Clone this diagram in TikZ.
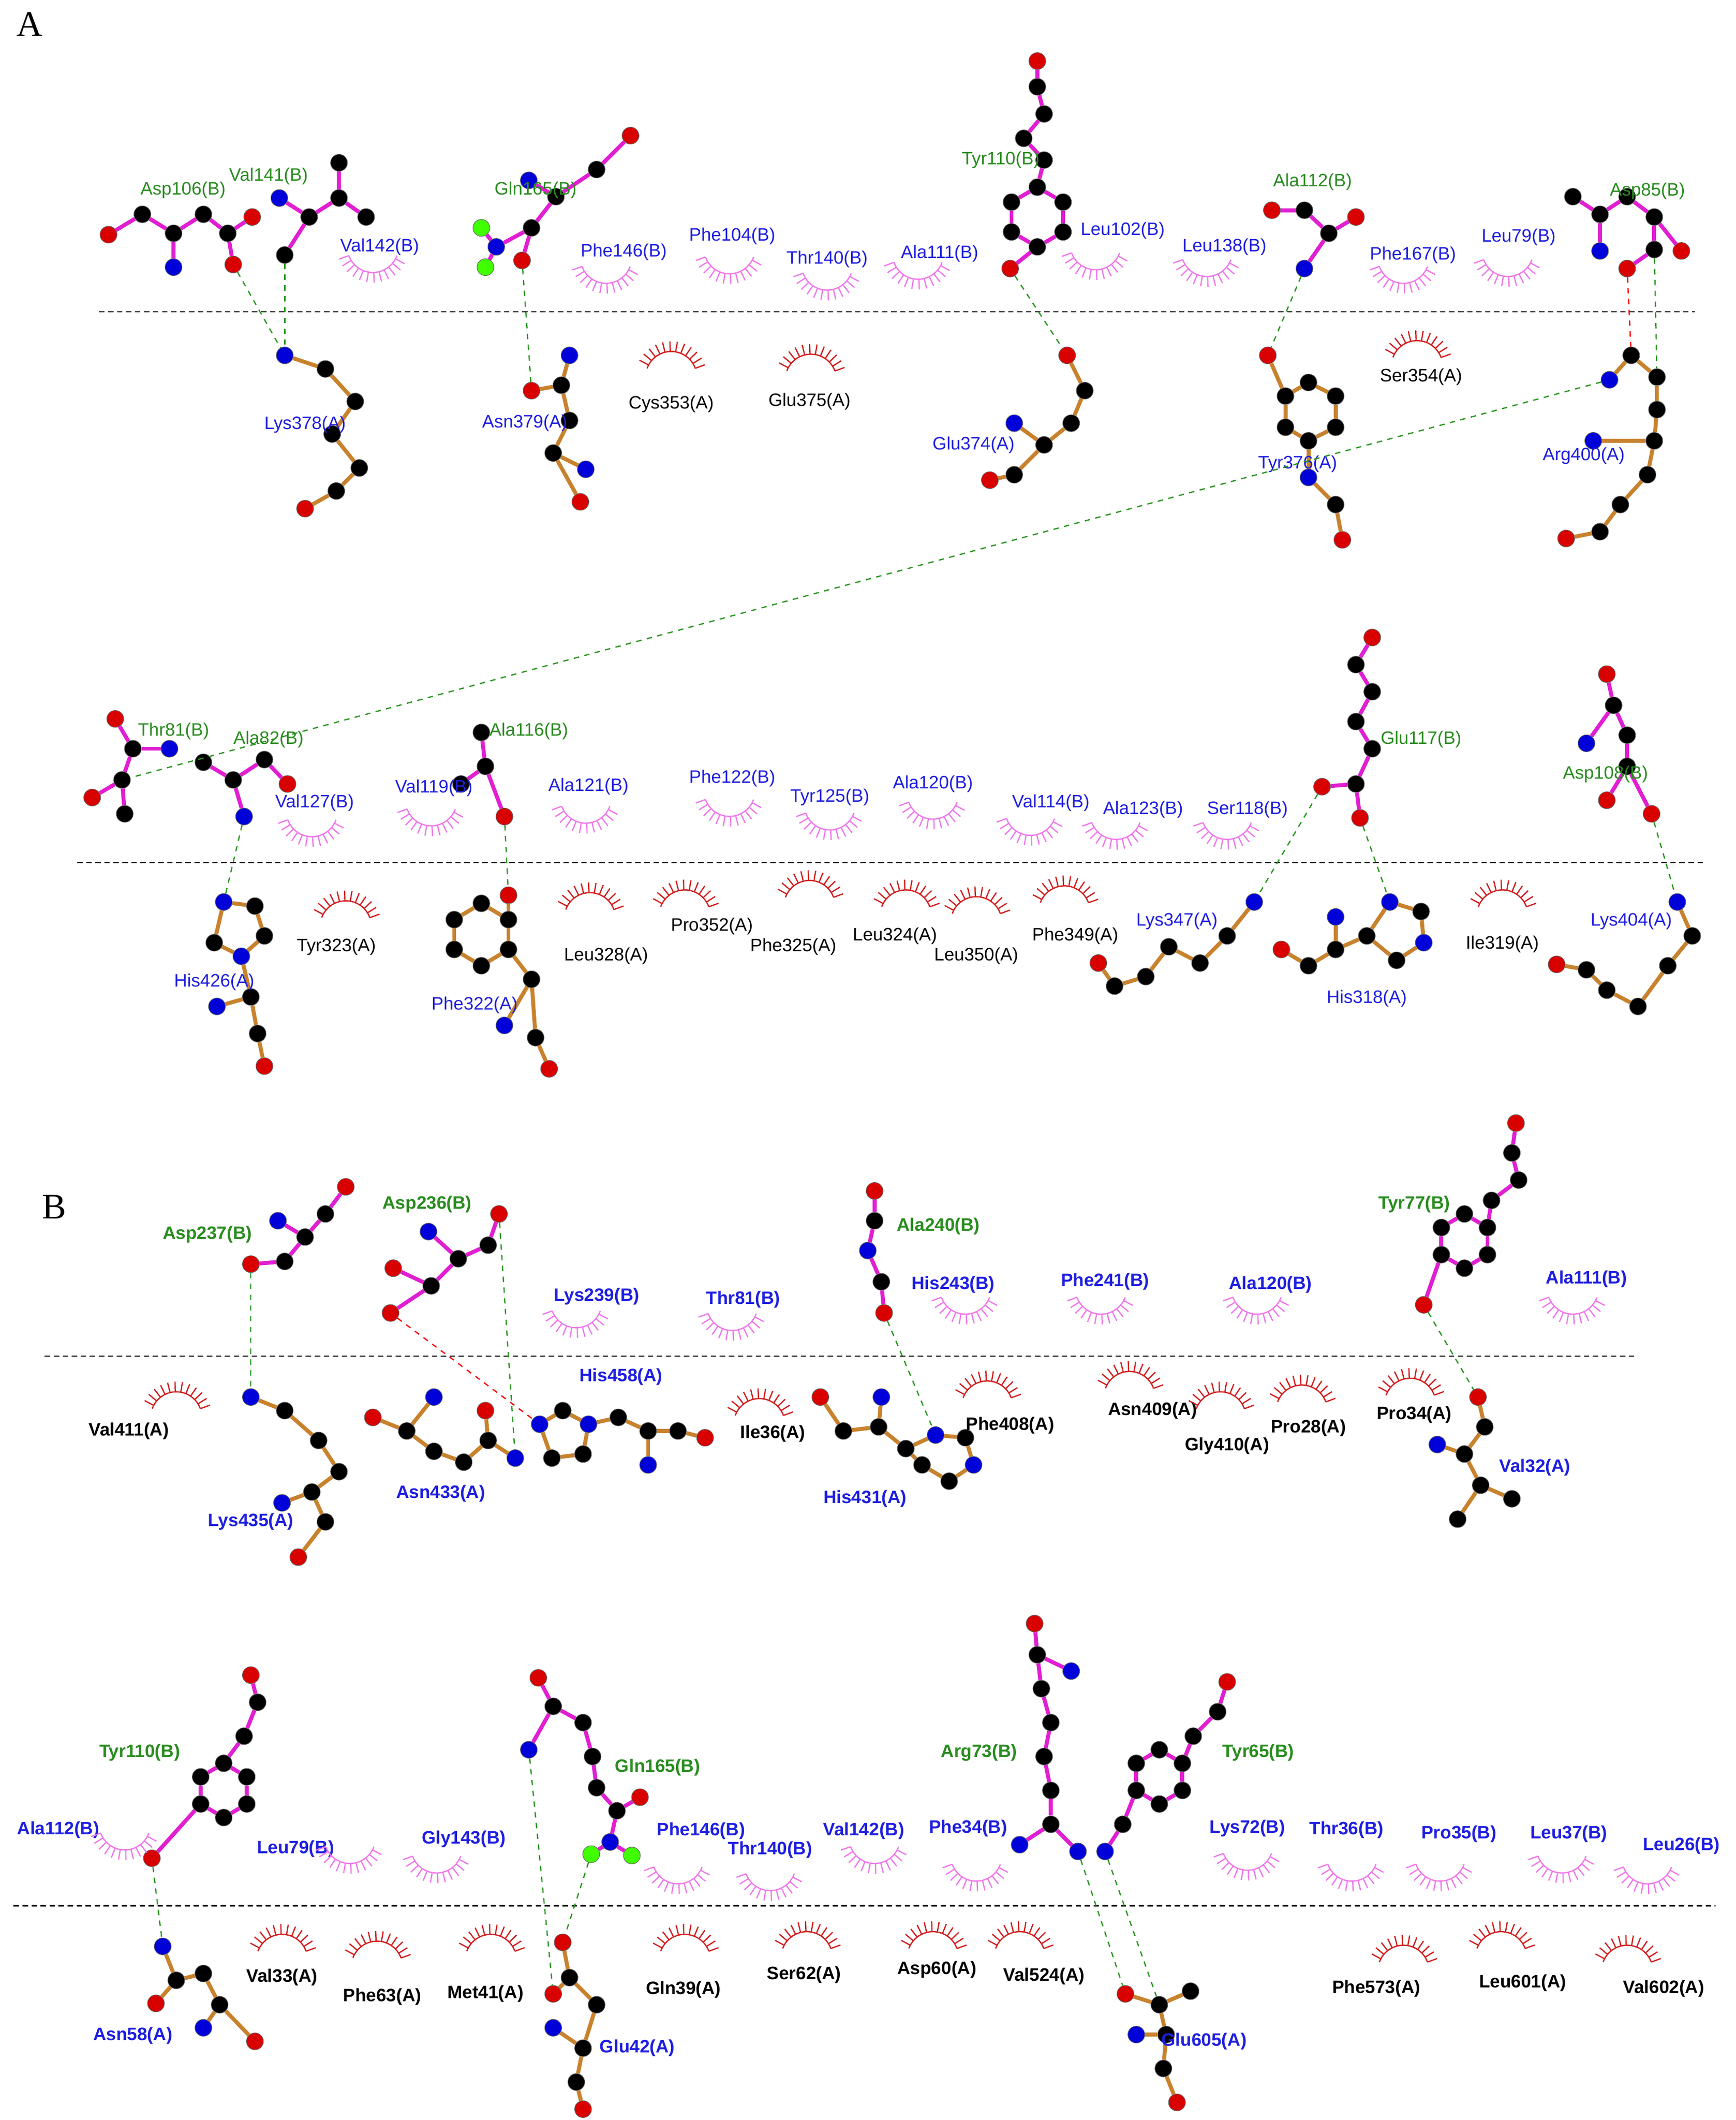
\documentclass[tikz,border=0pt]{standalone}
\usepackage{fontspec}
\setmainfont{Liberation Sans}
\newfontfamily\serifpanel{Liberation Serif}
\definecolor{lgreen}{RGB}{40,140,30}
\definecolor{lblue}{RGB}{30,30,225}
\definecolor{pinkarc}{RGB}{240,120,235}
\definecolor{redarc}{RGB}{210,30,30}
\definecolor{magb}{RGB}{225,30,210}
\definecolor{orb}{RGB}{200,130,45}
\definecolor{hbg}{RGB}{40,150,30}
\newcounter{lbc}
\newcounter{arc}
\tikzset{
 atom/.style={circle,inner sep=0pt,minimum size=0.33cm,draw=black!60,line width=0.3pt},
 ac/.style={atom,fill=black},
 an/.style={atom,fill=blue!85!black},
 ao/.style={atom,fill=red!85!black},
 ag/.style={atom,fill=green!75!yellow},
 bb/.style={draw=magb,line width=2.2pt},
 ab/.style={draw=orb,line width=2.2pt},
 hb/.style={draw=hbg,dashed,line width=0.7pt},
 hbr/.style={draw=red,dashed,line width=0.7pt},
 lg/.style={text=lgreen,font=\fontsize{10}{12}\selectfont},
 lb/.style={text=lblue,font=\fontsize{10}{12}\selectfont},
 lk/.style={text=black,font=\fontsize{10}{12}\selectfont},
 lgB/.style={lg,font=\fontsize{10}{12}\selectfont\bfseries},
 lbB/.style={lb,font=\fontsize{10}{12}\selectfont\bfseries},
 lkB/.style={lk,font=\fontsize{10}{12}\selectfont\bfseries},
 lash/.pic={\draw[pic actions] (200:0.5cm) arc (200:340:0.5cm);
   \foreach \a in {200,212,...,340} \draw[pic actions] (\a:0.5cm) -- (\a:0.7cm);},
 pk/.style={draw=pinkarc,line width=0.7pt},
 rd/.style={draw=redarc,line width=0.7pt,rotate=180},
}
% chain: name, bond style, list x/y/type
\newcommand\chain[3]{%
 \foreach \xx/\yy/\tt [count=\i] in {#3}{\node[\tt] (#1-\i) at (\xx,\yy) {};}%
 \foreach \xx/\yy/\tt [count=\i] in {#3}{\ifnum\i>1 \pgfmathtruncatemacro\j{\i-1}\draw[#2] (#1-\j) -- (#1-\i);\fi}}
\newcommand\atm[4]{\node[#4] (#1) at (#2,#3) {};}
\newcommand\lbl[4]{\stepcounter{lbc}\node[#1] (lab\arabic{lbc}) at (#2,#3) {#4};}
\newcommand\hyd[3]{\stepcounter{arc}\pic[#1] (arc\arabic{arc}) at (#2,#3) {lash};}
\begin{document}
\begin{tikzpicture}[x=0.02648cm,y=-0.02648cm]
\useasboundingbox[fill=white] (0,0) rectangle (1280,1563);
\node[font=\serifpanel\fontsize{20}{22}\selectfont] (pA) at (22,18) {A};
\node[font=\serifpanel\fontsize{20}{22}\selectfont] (pB) at (40,890) {B};
\coordinate (d1a) at (73,230); \coordinate (d1b) at (1250,230);
\coordinate (d2a) at (57,636); \coordinate (d2b) at (1258,636);
\coordinate (d3a) at (33,1000); \coordinate (d3b) at (1207,1000);
\coordinate (d4a) at (10,1405); \coordinate (d4b) at (1265,1405);
\foreach \a/\b in {d1a/d1b,d2a/d2b,d3a/d3b,d4a/d4b} \draw[densely dashed,line width=0.6pt] (\a) -- (\b);

%%%%% A top
\chain{m1}{bb}{80/173/ao,105/158/ac,128/172/ac,150/158/ac,168/172/ac,186/160/ao}
\atm{m1a}{128}{197}{an}\atm{m1b}{172}{195}{ao}
\draw[bb] (m1-3)--(m1a); \draw[bb] (m1-5)--(m1b);
\chain{m2}{bb}{206/146/an,228/160/ac,250/146/ac,250/120/ac}
\atm{m2a}{270}{160}{ac}\atm{m2b}{210}{188}{ac}
\draw[bb] (m2-3)--(m2a); \draw[bb] (m2-2)--(m2b);
\chain{m3}{ab}{210/262/an,240/272/ac,262/296/ac,245/320/ac,265/345/ac,248/362/ac,225/375/ao}
\draw[hb] (m1b)--(m3-1); \draw[hb] (m2b)--(m3-1);
\chain{m4}{bb}{366/182/an,392/168/ac,410/145/ac,440/125/ac,465/100/ao}
\atm{m4a}{390}{133}{an}\atm{m4b}{355}{168}{ag}\atm{m4c}{358}{197}{ag}\atm{m4d}{385}{192}{ao}
\draw[bb] (m4-3)--(m4a); \draw[bb] (m4-1)--(m4b); \draw[bb] (m4-1)--(m4c); \draw[bb] (m4-2)--(m4d);
\chain{m5}{ab}{420/262/an,414/284/ac,420/310/ac,408/334/ac,432/346/an}
\atm{m5a}{392}{288}{ao}\atm{m5b}{428}{370}{ao}
\draw[ab] (m5-2)--(m5a); \draw[ab] (m5-4)--(m5b);
\draw[hb] (m4d)--(m5a);
\chain{m6}{bb}{765/45/ao,765/64/ac,770/84/ac,755/102/ac,770/118/ac,765/138/ac,784/149/ac,784/171/ac,765/182/ac,746/171/ac,746/149/ac}
\draw[bb] (m6-11)--(m6-6);
\atm{m6a}{745}{198}{ao}\draw[bb] (m6-9)--(m6a);
\chain{m7}{ab}{787/262/ao,800/288/ac,790/312/ac,770/328/ac,748/312/an}
\atm{m7a}{748}{350}{ac}\atm{m7b}{730}{354}{ao}
\draw[ab] (m7-4)--(m7a); \draw[ab] (m7a)--(m7b);
\draw[hb] (m6a)--(m7-1);
\chain{m8}{bb}{938/155/ao,962/155/ac,980/172/ac,1000/160/ao}
\atm{m8a}{962}{198}{an}\draw[bb] (m8-3)--(m8a);
\chain{m9}{ab}{935/262/ao,948/292/ac,965/282/ac,985/292/ac,985/315/ac,965/325/ac,948/315/ac}
\draw[ab] (m9-7)--(m9-2);
\chain{m9b}{ab}{965/352/an,985/372/ac,990/398/ao}
\draw[ab] (m9-6)--(m9b-1);
\draw[hb] (m8a)--(m9-1);
\chain{m10}{bb}{1160/145/ac,1180/158/ac,1200/145/ac,1220/160/ac,1240/185/ao}
\atm{m10a}{1180}{185}{an}\atm{m10b}{1220}{184}{ac}\atm{m10c}{1200}{198}{ao}
\draw[bb] (m10-2)--(m10a); \draw[bb] (m10-4)--(m10b); \draw[bb] (m10b)--(m10c);
\chain{m11}{ab}{1187/280/an,1203/262/ac,1222/278/ac,1222/302/ac,1220/325/ac,1215/350/ac,1195/372/ac,1180/392/ac,1155/397/ao}
\atm{m11a}{1175}{325}{an}\draw[ab] (m11-5)--(m11a);
\draw[hbr] (m10c)--(m11-2); \draw[hb] (m10b)--(m11-3);

\lbl{lg}{135}{140}{Asp106(B)} \lbl{lg}{198}{130}{Val141(B)}
\lbl{lb}{280}{182}{Val142(B)} \hyd{pk}{275}{182}
\lbl{lg}{395}{140}{Gln165(B)}
\lbl{lb}{460}{186}{Phe146(B)} \hyd{pk}{447}{190}
\lbl{lb}{540}{174}{Phe104(B)} \hyd{pk}{538}{183}
\lbl{lb}{610}{191}{Thr140(B)} \hyd{pk}{610}{195}
\lbl{lb}{693}{187}{Ala111(B)} \hyd{pk}{677}{187}
\lbl{lg}{738}{118}{Tyr110(B)}
\lbl{lb}{828}{170}{Leu102(B)} \hyd{pk}{808}{180}
\lbl{lb}{903}{182}{Leu138(B)} \hyd{pk}{890}{185}
\lbl{lg}{968}{134}{Ala112(B)}
\lbl{lb}{1042}{188}{Phe167(B)} \hyd{pk}{1035}{190}
\lbl{lb}{1120}{175}{Leu79(B)} \hyd{pk}{1112}{185}
\lbl{lg}{1215}{141}{Asp85(B)}
\lbl{lb}{225}{313}{Lys378(A)} \lbl{lb}{387}{312}{Asn379(A)}
\hyd{rd}{495}{278} \lbl{lk}{495}{298}{Cys353(A)}
\hyd{rd}{598}{280} \lbl{lk}{597}{296}{Glu375(A)}
\lbl{lb}{718}{328}{Glu374(A)} \lbl{lb}{957}{342}{Tyr376(A)}
\hyd{rd}{1045}{270} \lbl{lk}{1048}{278}{Ser354(A)}
\lbl{lb}{1168}{336}{Arg400(A)}

%%%%% A bottom
\chain{m12}{bb}{68/588/ao,90/575/ac,98/552/ac,85/530/ao}
\atm{m12a}{125}{552}{an}\atm{m12b}{92}{600}{ac}
\draw[bb] (m12-3)--(m12a); \draw[bb] (m12-2)--(m12b);
\chain{m13}{bb}{150/562/ac,172/575/ac,195/560/ac,212/578/ao}
\atm{m13a}{180}{602}{an}\draw[bb] (m13-2)--(m13a);
\draw[hb] (m11-1)--(m12-2);
\chain{m14}{ab}{165/665/an,188/668/ac,195/690/ac,178/705/an,158/695/ac}
\draw[ab] (m14-5)--(m14-1);
\chain{m14b}{ab}{185/735/ac,190/762/ac,195/786/ao}
\atm{m14c}{160}{742}{an}
\draw[ab] (m14-4)--(m14b-1); \draw[ab] (m14b-1)--(m14c);
\draw[hb] (m13a)--(m14-1);
\chain{m15}{bb}{355/540/ac,358/565/ac,372/602/ao}
\atm{m15a}{340}{578}{ac}\draw[bb] (m15-2)--(m15a);
\chain{m16}{ab}{375/660/ao,375/678/ac,355/666/ac,335/678/ac,335/700/ac,355/712/ac,375/700/ac}
\draw[ab] (m16-7)--(m16-2);
\chain{m16b}{ab}{392/722/ac,372/756/an}
\atm{m16c}{405}{788}{ao}\atm{m16d}{395}{765}{ac}
\draw[ab] (m16-7)--(m16b-1); \draw[ab] (m16b-1)--(m16d); \draw[ab] (m16d)--(m16c);
\draw[hb] (m15-3)--(m16-1);
\chain{m17}{bb}{1012/470/ao,1000/490/ac,1012/510/ac,1000/532/ac,1012/552/ac,1000/578/ac,1003/603/ao}
\atm{m17a}{975}{580}{ao}\draw[bb] (m17-6)--(m17a);
\chain{m18}{ab}{925/665/an,905/690/ac,885/710/ac,862/698/ac,845/720/ac,822/727/ac,810/710/ao}
\chain{m19}{ab}{945/700/ao,965/712/ac,985/700/ac,1008/690/ac,1025/665/an,1048/672/ac,1050/695/an,1030/708/ac}
\draw[ab] (m19-8)--(m19-4);
\atm{m19a}{985}{676}{an}\draw[ab] (m19-3)--(m19a);
\draw[hb] (m17a)--(m18-1); \draw[hb] (m17-7)--(m19-5);
\chain{m20}{bb}{1185/497/ao,1190/520/ac,1200/542/ac,1200/565/ac,1185/590/ao}
\atm{m20a}{1218}{600}{ao}\atm{m20b}{1170}{548}{an}
\draw[bb] (m20-4)--(m20a); \draw[bb] (m20-2)--(m20b);
\chain{m21}{ab}{1237/665/an,1248/690/ac,1230/712/ac,1208/742/ac,1185/730/ac,1170/715/ac,1148/711/ao}
\draw[hb] (m20a)--(m21-1);

\lbl{lg}{128}{539}{Thr81(B)} \lbl{lg}{198}{545}{Ala82(B)}
\lbl{lb}{232}{592}{Val127(B)} \hyd{pk}{230}{598}
\lbl{lb}{320}{581}{Val119(B)} \hyd{pk}{318}{590}
\lbl{lg}{390}{539}{Ala116(B)}
\lbl{lb}{434}{580}{Ala121(B)} \hyd{pk}{432}{588}
\lbl{lb}{540}{574}{Phe122(B)} \hyd{pk}{538}{583}
\lbl{lb}{612}{588}{Tyr125(B)} \hyd{pk}{612}{593}
\lbl{lb}{688}{578}{Ala120(B)} \hyd{pk}{688}{585}
\lbl{lb}{775}{592}{Val114(B)} \hyd{pk}{760}{597}
\lbl{lb}{843}{597}{Ala123(B)} \hyd{pk}{823}{600}
\lbl{lb}{920}{597}{Ser118(B)} \hyd{pk}{905}{600}
\lbl{lg}{1048}{545}{Glu117(B)} \lbl{lg}{1184}{571}{Asp108(B)}
\lbl{lb}{158}{724}{His426(A)}
\hyd{rd}{255}{683} \lbl{lk}{248}{698}{Tyr323(A)}
\lbl{lb}{350}{741}{Phe322(A)}
\hyd{rd}{435}{677} \lbl{lk}{447}{705}{Leu328(A)}
\hyd{rd}{505}{675} \lbl{lk}{525}{683}{Pro352(A)}
\hyd{rd}{597}{668} \lbl{lk}{585}{698}{Phe325(A)}
\hyd{rd}{668}{675} \lbl{lk}{660}{690}{Leu324(A)}
\hyd{rd}{720}{680} \lbl{lk}{720}{705}{Leu350(A)}
\hyd{rd}{785}{672} \lbl{lk}{793}{690}{Phe349(A)}
\lbl{lb}{868}{679}{Lys347(A)} \lbl{lb}{1008}{736}{His318(A)}
\hyd{rd}{1108}{675} \lbl{lk}{1108}{696}{Ile319(A)}
\lbl{lb}{1203}{679}{Lys404(A)}

%%%%% B top
\chain{m22}{bb}{255/875/ao,240/895/ac,225/912/ac,205/900/an}
\atm{m22a}{210}{930}{ac}\atm{m22b}{185}{932}{ao}
\draw[bb] (m22-3)--(m22a); \draw[bb] (m22a)--(m22b);
\chain{m23}{bb}{368/895/ao,360/918/ac,338/928/ac,316/908/an}
\atm{m23a}{318}{948}{ac}\atm{m23b}{290}{935}{ao}\atm{m23c}{288}{968}{ao}
\draw[bb] (m23-3)--(m23a); \draw[bb] (m23a)--(m23b); \draw[bb] (m23a)--(m23c);
\chain{m24}{ab}{185/1030/an,210/1040/ac,235/1062/ac,250/1085/ac,230/1100/ac,240/1122/ac,220/1148/ao}
\atm{m24a}{208}{1108}{an}\draw[ab] (m24-5)--(m24a);
\draw[hb] (m22b)--(m24-1);
\chain{m25}{ab}{275/1045/ao,300/1055/ac,320/1070/ac,342/1078/ac,360/1062/ac,380/1075/an}
\atm{m25a}{320}{1030}{an}\atm{m25b}{358}{1040}{ao}
\draw[ab] (m25-2)--(m25a); \draw[ab] (m25-5)--(m25b);
\chain{m26}{ab}{398/1050/an,415/1040/ac,434/1050/an,430/1072/ac,407/1075/ac}
\draw[ab] (m26-5)--(m26-1);
\chain{m26b}{ab}{456/1045/ac,478/1055/ac,500/1055/ac,520/1060/ao}
\atm{m26c}{478}{1080}{an}
\draw[ab] (m26-3)--(m26b-1); \draw[ab] (m26b-2)--(m26c);
\draw[hb] (m23-1)--(m25-6); \draw[hbr] (m23c)--(m26-1);
\chain{m27}{bb}{645/878/ao,645/900/ac,640/922/an,650/945/ac,652/968/ao}
\chain{m28}{ab}{605/1030/ao,622/1055/ac,648/1052/ac,668/1068/ac,690/1058/an,712/1060/ac,718/1080/an,700/1092/ac,680/1080/ac}
\draw[ab] (m28-9)--(m28-4);
\atm{m28a}{650}{1030}{an}\draw[ab] (m28-3)--(m28a);
\draw[hb] (m27-5)--(m28-5);
\chain{m29}{bb}{1118/828/ao,1115/850/ac,1120/870/ac,1100/885/ac,1097/905/ac,1097/925/ac,1080/935/ac,1063/925/ac,1063/905/ac,1080/895/ac}
\draw[bb] (m29-10)--(m29-5);
\atm{m29a}{1050}{962}{ao}\draw[bb] (m29-8)--(m29a);
\chain{m30}{ab}{1090/1030/ao,1095/1052/ac,1080/1072/ac,1092/1095/ac,1075/1120/ac}
\atm{m30a}{1060}{1065}{an}\atm{m30b}{1115}{1105}{ac}
\draw[ab] (m30-3)--(m30a); \draw[ab] (m30-4)--(m30b);
\draw[hb] (m29a)--(m30-1);

\lbl{lgB}{153}{910}{Asp237(B)} \lbl{lgB}{315}{888}{Asp236(B)}
\lbl{lbB}{440}{956}{Lys239(B)} \hyd{pk}{425}{960}
\lbl{lbB}{548}{958}{Thr81(B)} \hyd{pk}{540}{962}
\lbl{lgB}{692}{904}{Ala240(B)}
\lbl{lbB}{703}{947}{His243(B)} \hyd{pk}{712}{950}
\lbl{lbB}{815}{945}{Phe241(B)} \hyd{pk}{812}{950}
\lbl{lbB}{937}{947}{Ala120(B)} \hyd{pk}{927}{950}
\lbl{lgB}{1043}{888}{Tyr77(B)}
\lbl{lbB}{1170}{943}{Ala111(B)} \hyd{pk}{1160}{950}
\hyd{rd}{130}{1045} \lbl{lkB}{95}{1055}{Val411(A)}
\lbl{lbB}{185}{1122}{Lys435(A)} \lbl{lbB}{325}{1101}{Asn433(A)}
\lbl{lbB}{458}{1015}{His458(A)}
\hyd{rd}{560}{1050} \lbl{lkB}{570}{1057}{Ile36(A)}
\lbl{lbB}{638}{1105}{His431(A)}
\hyd{rd}{728}{1037} \lbl{lkB}{745}{1051}{Phe408(A)}
\hyd{rd}{833}{1030} \lbl{lkB}{850}{1040}{Asn409(A)}
\hyd{rd}{900}{1045} \lbl{lkB}{905}{1066}{Gly410(A)}
\hyd{rd}{960}{1040} \lbl{lkB}{965}{1053}{Pro28(A)}
\hyd{rd}{1040}{1035} \lbl{lkB}{1043}{1043}{Pro34(A)}
\lbl{lbB}{1132}{1082}{Val32(A)}

%%%%% B bottom
\chain{m31}{bb}{185/1235/ao,190/1255/ac,180/1280/ac,165/1300/ac,182/1310/ac,182/1330/ac,165/1340/ac,148/1330/ac,148/1310/ac}
\draw[bb] (m31-9)--(m31-4);
\atm{m31a}{112}{1370}{ao}\draw[bb] (m31-8)--(m31a);
\chain{m32}{ab}{120/1435/an,130/1460/ac,150/1455/ac,162/1478/ac,150/1495/an}
\atm{m32a}{115}{1477}{ao}\atm{m32b}{188}{1505}{ao}
\draw[ab] (m32-2)--(m32a); \draw[ab] (m32-4)--(m32b);
\draw[hb] (m31a)--(m32-1);
\chain{m33}{bb}{397/1237/ao,408/1258/ac,430/1270/ac,437/1295/ac,440/1318/ac,455/1335/ac,450/1358/an}
\atm{m33a}{390}{1290}{an}\atm{m33b}{472}{1325}{ao}\atm{m33c}{436}{1367}{ag}\atm{m33d}{466}{1368}{ag}
\draw[bb] (m33-2)--(m33a); \draw[bb] (m33-6)--(m33b); \draw[bb] (m33-7)--(m33c); \draw[bb] (m33-7)--(m33d);
\chain{m34}{ab}{415/1432/ao,420/1458/ac,440/1478/ac,430/1510/ac,425/1535/ac,430/1555/ao}
\atm{m34a}{408}{1470}{ao}\atm{m34b}{408}{1495}{an}
\draw[ab] (m34-2)--(m34a); \draw[ab] (m34-4)--(m34b);
\draw[hb] (m33a)--(m34a); \draw[hb] (m33c)--(m34-1);
\chain{m35}{bb}{763/1197/ao,765/1220/ac,768/1245/ac,775/1270/ac,770/1295/ac,775/1320/ac,775/1345/ac,795/1365/an}
\atm{m35a}{790}{1232}{an}\atm{m35b}{752}{1360}{an}
\draw[bb] (m35-2)--(m35a); \draw[bb] (m35-7)--(m35b);
\chain{m36}{bb}{905/1240/ao,898/1262/ac,880/1280/ac,872/1300/ac,872/1320/ac,855/1330/ac,838/1320/ac,838/1300/ac,855/1290/ac}
\draw[bb] (m36-9)--(m36-4);
\atm{m36a}{828}{1345}{ac}\atm{m36b}{815}{1365}{an}
\draw[bb] (m36-7)--(m36a); \draw[bb] (m36a)--(m36b);
\chain{m37}{ab}{830/1470/ao,855/1478/ac,878/1468/ac}
\chain{m37b}{ab}{860/1500/ac,858/1525/ac,868/1550/ao}
\atm{m37c}{838}{1500}{an}
\draw[ab] (m37-2)--(m37b-1); \draw[ab] (m37b-1)--(m37c);
\draw[hb] (m35-8)--(m37-1); \draw[hb] (m36b)--(m37-2);

\lbl{lgB}{103}{1292}{Tyr110(B)}
\lbl{lbB}{43}{1349}{Ala112(B)} \hyd{pk}{92}{1345}
\lbl{lbB}{218}{1363}{Leu79(B)} \hyd{pk}{258}{1355}
\lbl{lbB}{342}{1356}{Gly143(B)} \hyd{pk}{322}{1362}
\lbl{lgB}{485}{1303}{Gln165(B)}
\lbl{lbB}{517}{1350}{Phe146(B)} \hyd{pk}{500}{1370}
\lbl{lbB}{568}{1364}{Thr140(B)} \hyd{pk}{568}{1375}
\lbl{lbB}{637}{1350}{Val142(B)} \hyd{pk}{645}{1355}
\lbl{lbB}{714}{1348}{Phe34(B)} \hyd{pk}{720}{1368}
\lbl{lgB}{722}{1292}{Arg73(B)} \lbl{lgB}{928}{1292}{Tyr65(B)}
\lbl{lbB}{920}{1348}{Lys72(B)} \hyd{pk}{920}{1360}
\lbl{lbB}{993}{1349}{Thr36(B)} \hyd{pk}{997}{1368}
\lbl{lbB}{1076}{1352}{Pro35(B)} \hyd{pk}{1062}{1368}
\lbl{lbB}{1157}{1352}{Leu37(B)} \hyd{pk}{1152}{1362}
\lbl{lbB}{1240}{1361}{Leu26(B)} \hyd{pk}{1215}{1370}
\lbl{lbB}{98}{1501}{Asn58(A)}
\hyd{rd}{208}{1445} \lbl{lkB}{208}{1458}{Val33(A)}
\hyd{rd}{278}{1450} \lbl{lkB}{282}{1472}{Phe63(A)}
\hyd{rd}{362}{1445} \lbl{lkB}{358}{1470}{Met41(A)}
\lbl{lbB}{470}{1510}{Glu42(A)}
\hyd{rd}{505}{1445} \lbl{lkB}{504}{1467}{Gln39(A)}
\hyd{rd}{595}{1443} \lbl{lkB}{593}{1456}{Ser62(A)}
\hyd{rd}{688}{1443} \lbl{lkB}{691}{1452}{Asp60(A)}
\hyd{rd}{752}{1443} \lbl{lkB}{770}{1457}{Val524(A)}
\lbl{lbB}{888}{1505}{Glu605(A)}
\hyd{rd}{1035}{1453} \lbl{lkB}{1015}{1466}{Phe573(A)}
\hyd{rd}{1107}{1443} \lbl{lkB}{1123}{1462}{Leu601(A)}
\hyd{rd}{1200}{1453} \lbl{lkB}{1227}{1466}{Val602(A)}
\end{tikzpicture}
\end{document}
